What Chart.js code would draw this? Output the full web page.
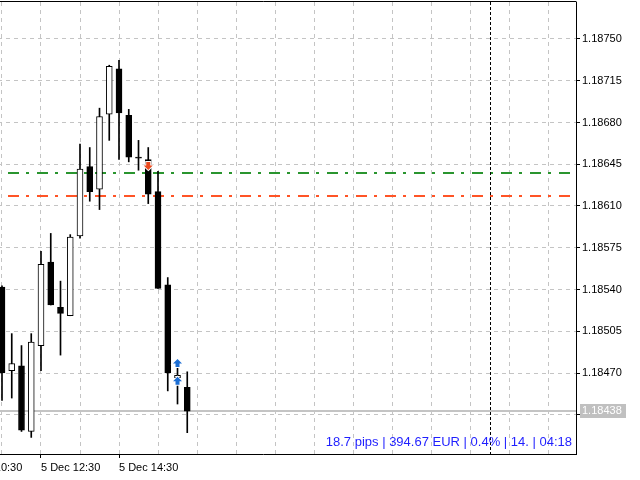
<!DOCTYPE html>
<html>
<head>
<meta charset="utf-8">
<script src="https://cdn.jsdelivr.net/npm/chart.js@4"></script>
<style>
html, body { margin: 0; padding: 0; background: #fff; overflow: hidden; width: 640px; height: 480px; }
#wrap { position: absolute; left: -50px; top: 0; width: 690px; height: 480px; }
</style>
</head>
<body>
<div id="wrap"><canvas id="c" width="690" height="480"></canvas></div>
<script>
// M15 candles, 5 Dec
const times  = ['11:30','11:45','12:00','12:15','12:30','12:45','13:00','13:15','13:30','13:45',
                '14:00','14:15','14:30','14:45','15:00','15:15','15:30','15:45','16:00','16:15'];
const opens  = [1.18542,1.18472,1.18476,1.18421,1.18493,1.18563,1.18525,1.18518,1.18585,1.18643,
                1.18624,1.18687,1.18725,1.18686,1.18651,1.18649,1.18622,1.18544,1.18466,1.18458];
const highs  = [1.18543,1.18503,1.18493,1.18503,1.18572,1.18587,1.18547,1.18586,1.18662,1.18659,
                1.18692,1.18728,1.18732,1.18691,1.18665,1.18659,1.18639,1.18550,1.18475,1.18471];
const lows   = [1.18447,1.18449,1.18421,1.18416,1.18472,1.18527,1.18485,1.18518,1.18583,1.18614,
                1.18607,1.18665,1.18649,1.18647,1.18640,1.18612,1.18541,1.18455,1.18444,1.18420];
const closes = [1.18470,1.18478,1.18422,1.18496,1.18561,1.18527,1.18520,1.18584,1.18641,1.18622,
                1.18685,1.18727,1.18688,1.18651,1.18650,1.18620,1.18541,1.18470,1.18468,1.18438];

const priceTicks = [1.18435,1.18470,1.18505,1.18540,1.18575,1.18610,1.18645,1.18680,1.18715,1.18750];
const timeTicks  = [-4, 4, 12];
const timeLabels = ['5 Dec 10:30', '5 Dec 12:30', '5 Dec 14:30'];

const levelPrices = [1.18638, 1.18618];
const levelColors = ['#2a952f', '#ff5426'];
const separatorAt = 50; // 6 Dec 00:00

const arrowAt    = [15, 18, 18];
const arrowPrice = [1.18644, 1.18478, 1.18463];
const arrowUp    = [false, true, true];
const arrowColor = ['#ea4a1e', '#1c6ed4', '#1c6ed4'];

const infoText = '18.7 pips | 394.67 EUR | 0.4% | 14. | 04:18';

Chart.defaults.font.family = '"Liberation Sans", Arial, sans-serif';
Chart.defaults.font.size = 11;
Chart.defaults.color = '#000';

function drawArrow(ctx, cx, cy, up, color) {
    const s = up ? 1 : -1;
    ctx.beginPath();
    ctx.moveTo(cx, cy - 4.5 * s);
    ctx.lineTo(cx + 4.5, cy);
    ctx.lineTo(cx + 2, cy);
    ctx.lineTo(cx + 2, cy + 3.5 * s);
    ctx.lineTo(cx - 2, cy + 3.5 * s);
    ctx.lineTo(cx - 2, cy);
    ctx.lineTo(cx - 4.5, cy);
    ctx.closePath();
    ctx.strokeStyle = '#fff';
    ctx.lineWidth = 2;
    ctx.stroke();
    ctx.fillStyle = color;
    ctx.fill();
}

const overlay = {
    id: 'overlay',
    beforeDatasetsDraw(chart) {
        const { ctx, chartArea: a, scales: { x, y } } = chart;
        ctx.save();
        ctx.beginPath();
        ctx.rect(a.left, a.top, a.right - a.left, a.bottom - a.top);
        ctx.clip();

        // trade levels
        levelPrices.forEach((p, i) => {
            const py = Math.round(y.getPixelForValue(p));
            ctx.strokeStyle = levelColors[i];
            ctx.lineWidth = 2;
            ctx.setLineDash([11, 7, 3, 8]);
            ctx.beginPath();
            ctx.moveTo(a.left, py);
            ctx.lineTo(a.right, py);
            ctx.stroke();
        });

        // bid line
        const by = Math.round(y.getPixelForValue(closes[closes.length - 1]));
        ctx.setLineDash([]);
        ctx.strokeStyle = '#c4c4c4';
        ctx.lineWidth = 2;
        ctx.beginPath();
        ctx.moveTo(a.left, by);
        ctx.lineTo(a.right, by);
        ctx.stroke();

        // day separator
        const sx = Math.round(x.getPixelForValue(separatorAt)) + 0.5;
        ctx.strokeStyle = '#000';
        ctx.lineWidth = 1;
        ctx.setLineDash([3, 2]);
        ctx.beginPath();
        ctx.moveTo(sx, a.top);
        ctx.lineTo(sx, a.bottom);
        ctx.stroke();
        ctx.restore();
    },
    afterDraw(chart) {
        const { ctx, chartArea: a, scales: { x, y } } = chart;
        ctx.save();

        // top frame
        ctx.strokeStyle = '#000';
        ctx.lineWidth = 1;
        ctx.beginPath();
        ctx.moveTo(a.left, a.top - 0.5);
        ctx.lineTo(a.right + 0.5, a.top - 0.5);
        ctx.stroke();

        // deal arrows
        arrowAt.forEach((v, i) => {
            drawArrow(ctx, x.getPixelForValue(v), y.getPixelForValue(arrowPrice[i]), arrowUp[i], arrowColor[i]);
        });

        // bid label
        const last = closes[closes.length - 1];
        const by = Math.round(y.getPixelForValue(last));
        ctx.fillStyle = '#c0c0c0';
        ctx.fillRect(a.right + 4, by - 7, 46, 14);
        ctx.fillStyle = '#fff';
        ctx.textAlign = 'left';
        ctx.textBaseline = 'middle';
        ctx.font = '11px "Liberation Sans", Arial, sans-serif';
        ctx.fillText(last.toFixed(5), a.right + 6, by);

        // info line
        ctx.fillStyle = '#1f1fff';
        ctx.textAlign = 'right';
        ctx.textBaseline = 'alphabetic';
        ctx.font = '13px "Liberation Sans", Arial, sans-serif';
        ctx.fillText(infoText, a.right - 4, a.bottom - 8);
        ctx.restore();
    }
};

new Chart(document.getElementById('c'), {
    type: 'bar',
    data: {
        datasets: [
            {
                label: 'wick',
                data: times.map((t, i) => ({ x: i, y: [lows[i], highs[i]] })),
                backgroundColor: '#000',
                borderWidth: 0,
                barThickness: 1,
                grouped: false,
                order: 2,
            },
            {
                label: 'body',
                data: times.map((t, i) => ({ x: i, y: [opens[i], closes[i]] })),
                backgroundColor: times.map((t, i) => (closes[i] >= opens[i] ? '#fff' : '#000')),
                borderColor: '#000',
                borderWidth: 1,
                borderSkipped: false,
                barThickness: 6,
                grouped: false,
                order: 1,
            },
        ],
    },
    plugins: [overlay],
    options: {
        responsive: false,
        animation: false,
        devicePixelRatio: 1,
        layout: { padding: { top: 2, left: 0, right: 0, bottom: 0 } },
        plugins: {
            legend: { display: false },
            tooltip: { enabled: false },
        },
        scales: {
            x: {
                type: 'linear',
                min: -5.333,
                max: 58.87,
                offset: false,
                afterBuildTicks: (scale) => {
                    const t = [];
                    for (let v = -4; v <= 56; v += 4) t.push({ value: v });
                    scale.ticks = t;
                },
                afterFit: (scale) => {
                    scale.height = 26;
                    scale.paddingLeft = 0;
                    scale.paddingRight = 0;
                },
                ticks: {
                    autoSkip: false,
                    maxRotation: 0,
                    align: 'start',
                    padding: 3,
                    callback: (v) => {
                        const k = timeTicks.indexOf(v);
                        return k >= 0 ? timeLabels[k] : '';
                    },
                },
                grid: {
                    offset: false,
                    color: '#c4c4c4',
                    tickLength: 4,
                    tickColor: (c) => (c.tick && timeTicks.includes(c.tick.value) ? '#000' : 'rgba(0,0,0,0)'),
                },
                border: { display: true, color: '#000', dash: [4, 4] },
            },
            y: {
                position: 'right',
                min: 1.184021,
                max: 1.187810,
                beginAtZero: false,
                afterBuildTicks: (scale) => {
                    scale.ticks = priceTicks.map((v) => ({ value: v }));
                },
                afterFit: (scale) => {
                    scale.width = 64;
                    scale.paddingTop = 0;
                    scale.paddingBottom = 0;
                },
                ticks: {
                    padding: 2,
                    callback: (v) => v.toFixed(5),
                },
                grid: {
                    color: '#c4c4c4',
                    tickLength: 4,
                    tickColor: '#000',
                },
                border: { display: true, color: '#000', dash: [4, 4] },
            },
        },
    },
});
</script>
</body>
</html>
